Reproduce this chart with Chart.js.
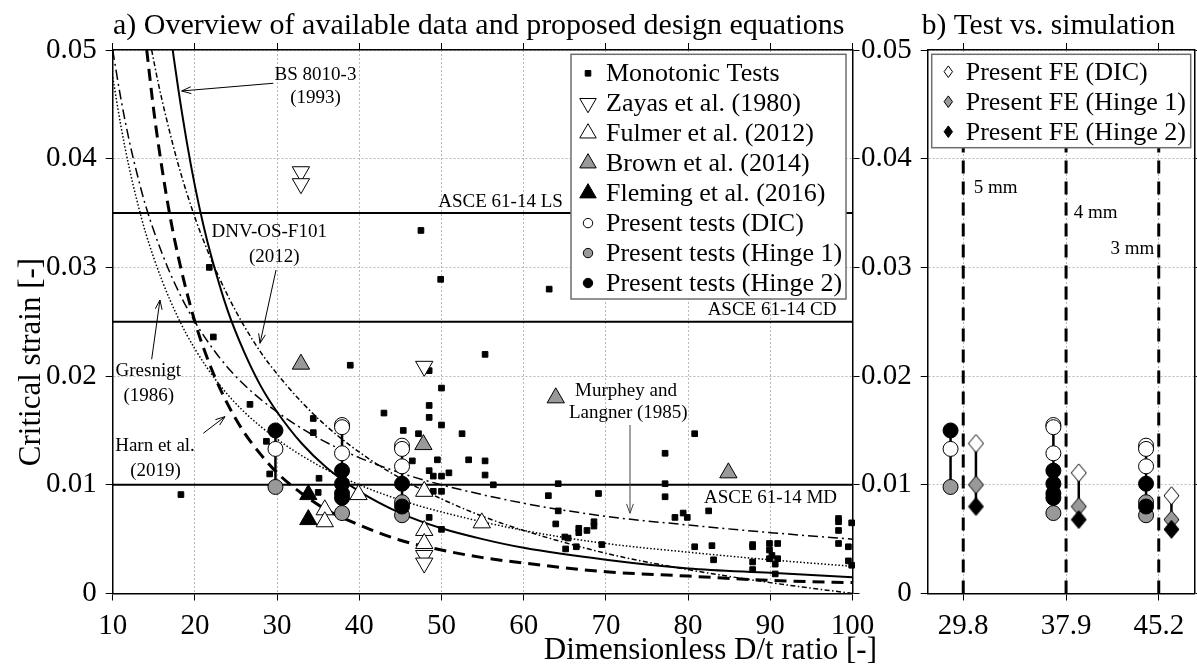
<!DOCTYPE html>
<html>
<head>
<meta charset="utf-8">
<title>Critical strain vs D/t</title>
<script src="https://cdn.jsdelivr.net/npm/chart.js@4.4.1/dist/chart.umd.min.js"></script>
<style>
  body { margin: 0; background: #fff; }
  #wrap { position: relative; width: 1197px; height: 666px; overflow: hidden; }
  canvas { position: absolute; top: 0; }
</style>
</head>
<body>
<div id="wrap">
  <canvas id="overview" width="1197" height="666" style="left:0"></canvas>
  <canvas id="simulation" width="337" height="666" style="left:860px"></canvas>
</div>
<script>
// tick labels
const dtTicks = [10, 20, 30, 40, 50, 60, 70, 80, 90, 100];
const strainTicks = [0, 0.01, 0.02, 0.03, 0.04, 0.05];

// monotonic tests from the literature
const monoDt = [18.3, 21.75, 22.24, 26.7, 28.7, 29.1, 34.4, 34.4, 35.1, 35.0, 38.9, 43.0, 45.35, 46.45, 47.2, 47.5,
  48.5, 48.5, 48.5, 48.5, 48.5, 49.0, 49.0, 49.5, 49.9, 50.0, 50.0, 50.0, 50.0, 50.0, 50.9, 52.5, 53.3, 55.3, 55.3, 55.3,
  56.3, 63.0, 63.1, 63.9, 64.2, 64.2, 65.0, 65.4, 65.1, 66.4, 66.7, 66.7, 67.7, 68.55, 68.55, 69.1, 69.5, 77.2, 77.2, 77.2,
  78.4, 79.4, 79.9, 80.8, 80.8, 82.5, 82.9, 83.1, 87.85, 87.85, 87.85, 87.85, 89.9, 89.9, 90.2, 89.9, 90.9, 90.9, 90.6, 90.6,
  98.3, 98.3, 98.3, 98.3, 99.9, 99.5, 99.5, 99.9];
const monoStrain = [0.0091, 0.0300, 0.0236, 0.0174, 0.0140, 0.0110, 0.0161, 0.0148, 0.0106, 0.0093, 0.0210, 0.0166, 0.0150, 0.0122, 0.0147, 0.0334,
  0.0205, 0.0173, 0.0162, 0.0113, 0.0070, 0.0108, 0.0094, 0.0123, 0.0289, 0.0189, 0.0155, 0.0108, 0.0094, 0.0059, 0.0111, 0.0147, 0.0123, 0.0220, 0.0122, 0.0109,
  0.0100, 0.0090, 0.0280, 0.0064, 0.0101, 0.0076, 0.0052, 0.0051, 0.0041, 0.0043, 0.0060, 0.0056, 0.0058, 0.0066, 0.0062, 0.0092, 0.0045, 0.0129, 0.0101, 0.0089,
  0.0070, 0.0074, 0.0070, 0.0147, 0.0043, 0.0076, 0.0044, 0.0031, 0.0045, 0.0043, 0.0029, 0.0022, 0.0046, 0.0040, 0.0035, 0.0032, 0.0046, 0.0032, 0.0027, 0.0018,
  0.0069, 0.0066, 0.0058, 0.0046, 0.0065, 0.0043, 0.0030, 0.0026];

const zayasDt = [32.9, 32.9, 47.9, 47.9, 47.9];
const zayasStrain = [0.0388, 0.0377, 0.0209, 0.0035, 0.0028];
const fulmerDt = [35.8, 35.8, 39.9, 47.9, 47.9, 47.9, 54.9];
const fulmerStrain = [0.0077, 0.0066, 0.0091, 0.0094, 0.0058, 0.0046, 0.0065];
const brownDt = [32.9, 47.8, 63.9, 84.9];
const brownStrain = [0.0211, 0.0137, 0.0180, 0.0111];
const flemingDt = [33.8, 33.8];
const flemingStrain = [0.0091, 0.0068];

// present tests, one list per specimen D/t
const testDt = [29.8, 37.9, 45.2];
const testDic = [[0.0133], [0.0155, 0.0153, 0.0129], [0.0136, 0.0133, 0.0117]];
const testHinge1 = [[0.0098], [0.0074], [0.0084, 0.0072]];
const testHinge2 = [[0.0150], [0.0113, 0.0101, 0.0092, 0.0088], [0.0101, 0.0080]];

// present FE simulations
const feDic = [0.0138, 0.0111, 0.0090];
const feHinge1 = [0.0100, 0.0080, 0.0068];
const feHinge2 = [0.0080, 0.0068, 0.0059];

// design equations
const bsDt = [17.3, 18, 19, 20, 21, 22, 24, 26, 28, 30, 33, 36, 40, 45, 50, 55, 60, 70, 80, 90, 100];
const bsStrain = [0.05, 0.0463, 0.0416, 0.0375, 0.0340, 0.0310, 0.0260, 0.0222, 0.0191, 0.0167, 0.0138, 0.0116, 0.0094, 0.0074, 0.0060, 0.0050, 0.0042, 0.0031, 0.0023, 0.0019, 0.0015];
const harnDt = [14.14, 15, 16, 17, 18, 20, 22, 24, 26, 28, 30, 33, 36, 40, 45, 50, 55, 60, 70, 80, 90, 100];
const harnStrain = [0.05, 0.0444, 0.0391, 0.0346, 0.0309, 0.0250, 0.0207, 0.0174, 0.0148, 0.0128, 0.0111, 0.0092, 0.0077, 0.0063, 0.0049, 0.0040, 0.0033, 0.0028, 0.0020, 0.0016, 0.0012, 0.0010];
const murpheyDt = [10, 11, 12, 13, 14, 16, 18, 20, 23, 26, 30, 35, 40, 45, 50, 60, 70, 80, 90, 100];
const murpheyStrain = [0.05, 0.0455, 0.0417, 0.0385, 0.0357, 0.0313, 0.0278, 0.0250, 0.0217, 0.0192, 0.0167, 0.0143, 0.0125, 0.0111, 0.0100, 0.0083, 0.0071, 0.0063, 0.0056, 0.0050];
const gresnigtDt = [10, 11, 12, 13, 14, 16, 18, 20, 23, 26, 30, 35, 40, 45, 50, 60, 70, 80, 90, 100];
const gresnigtStrain = [0.0475, 0.0430, 0.0392, 0.0360, 0.0332, 0.0288, 0.0253, 0.0225, 0.0192, 0.0167, 0.0142, 0.0118, 0.0100, 0.0086, 0.0075, 0.0058, 0.0046, 0.0038, 0.0031, 0.0025];
const dnvDt = [14.74, 15.5, 16.5, 18, 20, 22, 24, 26, 28, 30, 33, 36, 40, 45, 50, 55, 60, 70, 80, 90, 100];
const dnvStrain = [0.05, 0.0471, 0.0438, 0.0394, 0.0346, 0.0307, 0.0274, 0.0246, 0.0222, 0.0202, 0.0176, 0.0154, 0.0130, 0.0106, 0.0087, 0.0071, 0.0058, 0.0037, 0.0022, 0.0010, 0];

// ASCE 61-14 limits
const asceNames = ['ASCE 61-14 LS', 'ASCE 61-14 CD', 'ASCE 61-14 MD'];
const asceStrain = [0.035, 0.025, 0.01];

const serif = "'Liberation Serif', 'Times New Roman', serif";
const gray = '#999999';
const gridColor = '#b8b8b8';
Chart.defaults.font.family = serif;
Chart.defaults.color = '#000';

const zip = (xs, ys) => xs.map((v, i) => ({x: v, y: ys[i]}));
const fmt = v => String(Math.round(v * 1000) / 1000);

function axis(pos, min, max, values, labels, size) {
  const horizontal = pos === 'top' || pos === 'bottom';
  return {
    type: 'linear', position: pos, min: min, max: max,
    afterBuildTicks: s => { s.ticks = values.map(v => ({value: v})); },
    ticks: {display: labels, font: {family: serif, size: 29}, color: '#000', padding: horizontal ? 8 : 9,
      maxRotation: 0, autoSkip: false, callback: fmt},
    grid: {drawOnChartArea: labels, color: gridColor, lineWidth: 1, tickColor: '#000', tickLength: 7, tickWidth: 1},
    border: {display: true, color: '#000', width: 1.5, dash: [2, 2]},
    afterFit: s => { if (horizontal) s.height = size; else s.width = size; }
  };
}

function curve(xs, ys, width, dash) {
  return {data: zip(xs, ys), showLine: true, borderColor: '#000', borderWidth: width, borderDash: dash,
    pointRadius: 0, cubicInterpolationMode: 'monotone', order: 50};
}
function points(data, style, radius, fill, order, rotation) {
  return {data: data, showLine: false, pointStyle: style, pointRadius: radius, pointHoverRadius: radius,
    pointRotation: rotation || 0, backgroundColor: fill, borderColor: '#000', pointBorderWidth: 1, order: order, clip: false};
}
function segment(x, y1, y2, width, dash, order) {
  return {data: [{x: x, y: y1}, {x: x, y: y2}], showLine: true, borderColor: '#000', borderWidth: width,
    borderDash: dash || [], pointRadius: 0, order: order};
}
const flat = (lists, xs, shift) => lists.flatMap((l, i) => l.map(v => ({x: xs[i] + shift, y: v})));

// marker drawing for the hand made legends
function marker(ctx, shape, x, y, r, fill, r2) {
  ctx.save();
  ctx.beginPath();
  if (shape === 'rect') {
    ctx.rect(x - r, y - r, 2 * r, 2 * r);
  } else if (shape === 'circle') {
    ctx.arc(x, y, r, 0, Math.PI * 2);
  } else if (shape === 'up') {
    ctx.moveTo(x, y - r); ctx.lineTo(x + r * 0.866, y + r / 2); ctx.lineTo(x - r * 0.866, y + r / 2); ctx.closePath();
  } else if (shape === 'down') {
    ctx.moveTo(x, y + r); ctx.lineTo(x + r * 0.866, y - r / 2); ctx.lineTo(x - r * 0.866, y - r / 2); ctx.closePath();
  } else {
    ctx.moveTo(x, y - r2); ctx.lineTo(x + r, y); ctx.lineTo(x, y + r2); ctx.lineTo(x - r, y); ctx.closePath();
  }
  ctx.fillStyle = fill; ctx.fill();
  ctx.lineWidth = 1; ctx.strokeStyle = '#000'; ctx.stroke();
  ctx.restore();
}

function drawLegend(ctx, box, rows) {
  ctx.save();
  ctx.fillStyle = '#fff';
  ctx.fillRect(box.x, box.y, box.w, box.h);
  ctx.strokeStyle = '#6e6e6e'; ctx.lineWidth = 1.5;
  ctx.strokeRect(box.x, box.y, box.w, box.h);
  ctx.font = '26px ' + serif;
  ctx.textAlign = 'left'; ctx.textBaseline = 'middle';
  rows.forEach((r, i) => {
    const yy = box.first + i * box.step;
    marker(ctx, r.shape, box.mx, yy, r.size, r.fill, r.size2);
    ctx.fillStyle = '#000';
    ctx.fillText(r.label, box.tx, yy + 1);
  });
  ctx.restore();
}

function arrow(ctx, x1, y1, x2, y2, color) {
  const a = Math.atan2(y2 - y1, x2 - x1), h = 10;
  ctx.save();
  ctx.strokeStyle = color; ctx.lineWidth = 1;
  ctx.beginPath();
  ctx.moveTo(x1, y1); ctx.lineTo(x2, y2);
  ctx.moveTo(x2 - h * Math.cos(a - 0.35), y2 - h * Math.sin(a - 0.35));
  ctx.lineTo(x2, y2);
  ctx.lineTo(x2 - h * Math.cos(a + 0.35), y2 - h * Math.sin(a + 0.35));
  ctx.stroke();
  ctx.restore();
}

// ---------- a) overview ----------
const notes = [
  {text: ['BS 8010-3', '(1993)'], at: [[34.67, 0.0477], [34.67, 0.04556]], from: [29.54, 0.04694], to: [18.39, 0.04623]},
  {text: ['DNV-OS-F101', '(2012)'], at: [[29.04, 0.03328], [29.66, 0.03098]], from: [29.87, 0.02976], to: [27.92, 0.02302]},
  {text: ['Gresnigt', '(1986)'], at: [[14.33, 0.0205], [14.39, 0.0182]], from: [14.74, 0.02155], to: [15.75, 0.027]},
  {text: ['Harn et al.', '(2019)'], at: [[15.15, 0.0136], [15.21, 0.0113]], from: [21.02, 0.01474], to: [23.66, 0.01627]},
  {text: ['Murphey and', 'Langner (1985)'], at: [[72.45, 0.01866], [72.73, 0.01658]], from: [72.93, 0.0155], to: [72.93, 0.00738], color: '#444'}
];
const asceAt = [[57.18, 0.03604], [90.21, 0.02608], [90.03, 0.00879]];

const overviewDecor = {
  id: 'overviewDecor',
  afterDatasetsDraw(chart) {
    const {ctx, scales: {x, y}} = chart;
    const px = v => x.getPixelForValue(v), py = v => y.getPixelForValue(v);
    ctx.save();
    ctx.font = '19px ' + serif;
    ctx.fillStyle = '#000';
    ctx.textAlign = 'center'; ctx.textBaseline = 'middle';
    notes.forEach(n => {
      n.text.forEach((t, i) => ctx.fillText(t, px(n.at[i][0]), py(n.at[i][1])));
      arrow(ctx, px(n.from[0]), py(n.from[1]), px(n.to[0]), py(n.to[1]), n.color || '#000');
    });
    asceNames.forEach((t, i) => ctx.fillText(t, px(asceAt[i][0]), py(asceAt[i][1])));
    ctx.restore();
  },
  afterDraw(chart) {
    const ctx = chart.ctx;
    drawLegend(ctx, {x: 571, y: 54.3, w: 275, h: 244.7, first: 73.3, step: 29.96, mx: 588, tx: 606}, [
      {label: 'Monotonic Tests', shape: 'rect', size: 2.8, fill: '#000'},
      {label: 'Zayas et al. (1980)', shape: 'down', size: 9.5, fill: '#fff'},
      {label: 'Fulmer et al. (2012)', shape: 'up', size: 9.5, fill: '#fff'},
      {label: 'Brown et al. (2014)', shape: 'up', size: 9.5, fill: gray},
      {label: 'Fleming et al. (2016)', shape: 'up', size: 9.5, fill: '#000'},
      {label: 'Present tests (DIC)', shape: 'circle', size: 4.7, fill: '#fff'},
      {label: 'Present tests (Hinge 1)', shape: 'circle', size: 4.7, fill: gray},
      {label: 'Present tests (Hinge 2)', shape: 'circle', size: 4.7, fill: '#000'}
    ]);
    ctx.save();
    ctx.fillStyle = '#000';
    ctx.font = '30px ' + serif;
    ctx.textAlign = 'left'; ctx.textBaseline = 'alphabetic';
    ctx.fillText('a) Overview of available data and proposed design equations', 113, 34);
    ctx.font = '31px ' + serif;
    ctx.textAlign = 'right';
    ctx.fillText('Dimensionless D/t ratio [-]', 877, 659);
    ctx.translate(32, 362);
    ctx.rotate(-Math.PI / 2);
    ctx.textAlign = 'center'; ctx.textBaseline = 'middle';
    ctx.fillText('Critical strain [-]', 0, 0);
    ctx.restore();
  }
};

const testRange = testDt.map((d, i) => {
  const all = testDic[i].concat(testHinge1[i], testHinge2[i]);
  return [Math.min(...all), Math.max(...all)];
});

const overviewSets = [
  curve(bsDt, bsStrain, 2, []),
  curve(harnDt, harnStrain, 3, [12, 7]),
  curve(murpheyDt, murpheyStrain, 1.5, [10, 4, 2, 4]),
  curve(gresnigtDt, gresnigtStrain, 1.5, [1.5, 2]),
  curve(dnvDt, dnvStrain, 1.5, [5, 2.5, 1.5, 2.5]),
  ...asceStrain.map(s => ({...segment(10, s, s, 2, [], 60), data: [{x: 10, y: s}, {x: 100, y: s}]})),
  ...testDt.map((d, i) => segment(d, testRange[i][0], testRange[i][1], 2.5, [], 40)),
  points(zip(monoDt, monoStrain), 'rect', 4, '#000', 30),
  points(zip(zayasDt, zayasStrain), 'triangle', 10, '#fff', 25, 180),
  points(zip(fulmerDt, fulmerStrain), 'triangle', 10, '#fff', 24),
  points(zip(brownDt, brownStrain), 'triangle', 10, gray, 23),
  points(zip(flemingDt, flemingStrain), 'triangle', 10, '#000', 22),
  points(flat(testDic, testDt, 0), 'circle', 7.5, '#fff', 12),
  points(flat(testHinge1, testDt, 0), 'circle', 7.5, gray, 11),
  points(flat(testHinge2, testDt, 0), 'circle', 7.5, '#000', 10)
];

new Chart(document.getElementById('overview'), {
  type: 'scatter',
  data: {datasets: overviewSets},
  options: {
    responsive: false, animation: false, events: [],
    layout: {padding: 0, autoPadding: false},
    plugins: {legend: {display: false}, tooltip: {enabled: false}, title: {display: false}},
    scales: {
      x: axis('bottom', 10, 100, dtTicks, true, 72.5),
      xTop: axis('top', 10, 100, dtTicks, false, 50),
      y: axis('left', 0, 0.05, strainTicks, true, 112.7),
      yRight: axis('right', 0, 0.05, strainTicks, false, 344.5)
    }
  },
  plugins: [overviewDecor]
});

// ---------- b) test vs. simulation ----------
const side = 1.0; // tests drawn left of each D/t line, FE right of it
const mmLabels = ['5 mm', '4 mm', '3 mm'];
const mmAt = [[32.36, 0.03728], [40.23, 0.03498], [43.12, 0.03167]];

function diamondImage(fill) {
  const c = document.createElement('canvas');
  c.width = 17; c.height = 20;
  const g = c.getContext('2d');
  g.beginPath();
  g.moveTo(8.5, 1); g.lineTo(16, 10); g.lineTo(8.5, 19); g.lineTo(1, 10); g.closePath();
  g.fillStyle = fill; g.fill();
  g.strokeStyle = '#000'; g.lineWidth = 1; g.stroke();
  return c;
}

const simDecor = {
  id: 'simDecor',
  afterDatasetsDraw(chart) {
    const {ctx, scales: {x, y}} = chart;
    ctx.save();
    ctx.font = '19px ' + serif;
    ctx.fillStyle = '#000';
    ctx.textAlign = 'center'; ctx.textBaseline = 'middle';
    mmLabels.forEach((t, i) => ctx.fillText(t, x.getPixelForValue(mmAt[i][0]), y.getPixelForValue(mmAt[i][1])));
    ctx.restore();
  },
  afterDraw(chart) {
    const ctx = chart.ctx;
    drawLegend(ctx, {x: 71.7, y: 54.3, w: 259, h: 93.4, first: 71.7, step: 30, mx: 88.3, tx: 105.7}, [
      {label: 'Present FE (DIC)', shape: 'diamond', size: 4.2, size2: 5.8, fill: '#fff'},
      {label: 'Present FE (Hinge 1)', shape: 'diamond', size: 4.2, size2: 5.8, fill: gray},
      {label: 'Present FE (Hinge 2)', shape: 'diamond', size: 4.2, size2: 5.8, fill: '#000'}
    ]);
    ctx.save();
    ctx.fillStyle = '#000';
    ctx.font = '29.5px ' + serif;
    ctx.textAlign = 'left'; ctx.textBaseline = 'alphabetic';
    ctx.fillText('b) Test vs. simulation', 61.7, 34);
    ctx.restore();
  }
};

const feLists = [feDic, feHinge1, feHinge2];
const simSets = [
  ...testDt.map(d => segment(d, 0, 0.05, 3, [13, 8], 50)),
  ...testDt.map((d, i) => segment(d - side, testRange[i][0], testRange[i][1], 2.5, [], 40)),
  ...testDt.map((d, i) => {
    const v = feLists.map(l => l[i]);
    return segment(d + side, Math.min(...v), Math.max(...v), 2.5, [], 40);
  }),
  points(flat(testDic, testDt, -side), 'circle', 7.5, '#fff', 12),
  points(flat(testHinge1, testDt, -side), 'circle', 7.5, gray, 11),
  points(flat(testHinge2, testDt, -side), 'circle', 7.5, '#000', 10),
  points(zip(testDt.map(d => d + side), feDic), diamondImage('#fff'), 8, '#fff', 9),
  points(zip(testDt.map(d => d + side), feHinge1), diamondImage(gray), 8, gray, 8),
  points(zip(testDt.map(d => d + side), feHinge2), diamondImage('#000'), 8, '#000', 7)
];

new Chart(document.getElementById('simulation'), {
  type: 'scatter',
  data: {datasets: simSets},
  options: {
    responsive: false, animation: false, events: [],
    layout: {padding: 0, autoPadding: false},
    plugins: {legend: {display: false}, tooltip: {enabled: false}, title: {display: false}},
    scales: {
      x: axis('bottom', 27, 48, testDt, true, 72.5),
      xTop: axis('top', 27, 48, testDt, false, 50),
      y: axis('left', 0, 0.05, strainTicks, true, 67.7),
      yRight: axis('right', 0, 0.05, strainTicks, false, 2.7)
    }
  },
  plugins: [simDecor]
});
</script>
</body>
</html>
